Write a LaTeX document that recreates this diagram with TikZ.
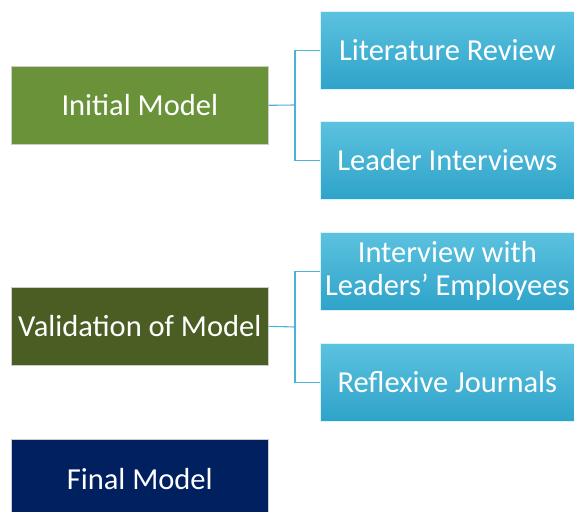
\documentclass[tikz,border=0pt]{standalone}
\usepackage{fontspec}
\setmainfont{Carlito}
\definecolor{gInit}{HTML}{6A9239}
\definecolor{gVal}{HTML}{4A5E24}
\definecolor{navy}{HTML}{002060}
\definecolor{bTop}{HTML}{5CC2DF}
\definecolor{bBot}{HTML}{2EA3C9}
\definecolor{link}{HTML}{4BB3D3}
\begin{document}
\begin{tikzpicture}[x=1pt,y=-1pt,
  lbox/.style={draw=white!80!black,line width=0.6pt,minimum width=257pt,minimum height=78pt,inner sep=0pt,text=white,font=\fontsize{30.5}{33}\selectfont,align=center},
  rbox/.style={draw=white!85!cyan,line width=0.6pt,minimum width=254pt,minimum height=78pt,inner sep=0pt,text=white,top color=bTop,bottom color=bBot,font=\fontsize{30.5}{33}\selectfont,align=center},
  conn/.style={draw=link,line width=1.1pt}]
\path[use as bounding box] (0,0) rectangle (574,512);
\node[lbox,fill=gInit,anchor=north west] (init) at (11,66) {Initial Model};
\node[lbox,fill=gVal,anchor=north west] (val) at (11,287) {Validation of Model};
\node[lbox,fill=navy,anchor=north west,minimum height=80pt] (final) at (11,439) {Final Model};
\node[rbox,anchor=north west] (lit) at (320,11) {Literature Review};
\node[rbox,anchor=north west] (lead) at (320,121) {Leader Interviews};
\node[rbox,anchor=north west] (intv) at (320,232) {Interview with\\Leaders’ Employees};
\node[rbox,anchor=north west] (refl) at (320,343) {Reflexive Journals};
\coordinate (j1) at (295,105);
\coordinate (j2) at (295,327);
\draw[conn] (init.east) -- (j1);
\draw[conn] (lit.west) -| (j1) |- (lead.west);
\draw[conn] (val.east) -- (j2);
\draw[conn] (intv.west) -| (j2) |- (refl.west);
\end{tikzpicture}
\end{document}
